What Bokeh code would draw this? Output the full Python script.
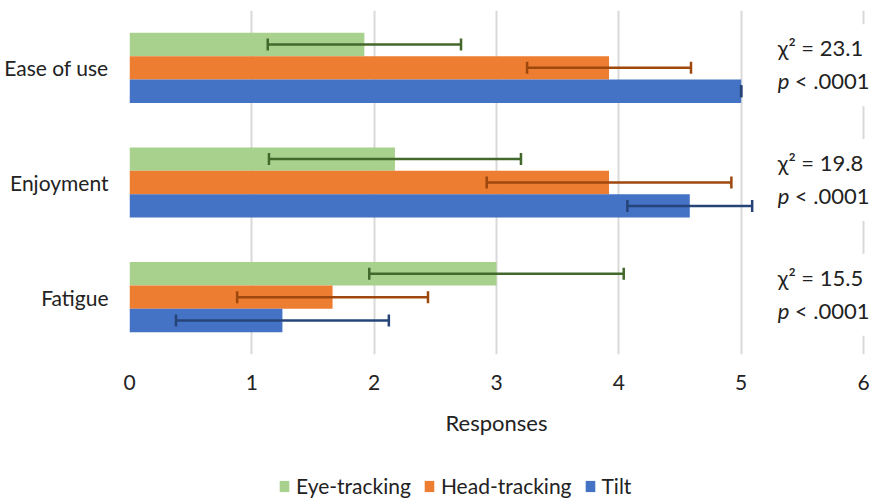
from bokeh.plotting import figure
from bokeh.layouts import column
from bokeh.models import (FactorRange, Range1d, ColumnDataSource, Whisker, Legend,
                          LegendItem, TeeHead, FixedTicker, Title)
from bokeh.transform import dodge
from bokeh.core.properties import value
from bokeh.embed import file_html
from bokeh.resources import INLINE

# Survey responses per condition (mean and standard deviation)
categories = ["Ease of use", "Enjoyment", "Fatigue"]
series = ["Eye-tracking", "Head-tracking", "Tilt"]
eye_mean = [1.92, 2.17, 3.00]
eye_sd = [0.79, 1.03, 1.04]
head_mean = [3.92, 3.92, 1.66]
head_sd = [0.67, 1.00, 0.78]
tilt_mean = [5.00, 4.58, 1.25]
tilt_sd = [0.00, 0.51, 0.87]
chi_values = ["23.1", "19.8", "15.5"]
p_values = ["< .0001", "< .0001", "< .0001"]
x_ticks = [0, 1, 2, 3, 4, 5, 6]

FONT = "Lato"
TXT = "#222222"
bar_colors = ["#A9D18E", "#ED7D31", "#4472C4"]
err_colors = ["#43682B", "#9E480E", "#264478"]
offsets = [0.204, 0.0, -0.204]
bar_h = 0.204

p = figure(width=874, height=440,
           y_range=FactorRange(*reversed(categories)),
           x_range=Range1d(0, 6.09),
           output_backend="svg", toolbar_location=None,
           min_border_left=129, min_border_right=0,
           min_border_top=10, min_border_bottom=85)
p.outline_line_color = None
p.background_fill_color = "white"
p.border_fill_color = "white"

p.ygrid.grid_line_color = None
p.xgrid.grid_line_color = "#d9d9d9"
p.xgrid.grid_line_width = 2

xa = p.xaxis[0]
xa.ticker = FixedTicker(ticks=x_ticks)
xa.axis_line_color = None
xa.major_tick_line_color = None
xa.minor_tick_line_color = None
xa.major_label_standoff = 14
xa.major_label_text_font = FONT
xa.major_label_text_font_size = "21px"
xa.major_label_text_color = TXT

# Small blank gap, then the axis title centred under the 0-6 scale
p.add_layout(Title(text=" ", text_font_size="1px", standoff=6), "below")
p.add_layout(Title(text="Responses", align="left", offset=316,
                   text_font=FONT, text_font_size="22px",
                   text_font_style="normal", text_color=TXT), "below")

ya = p.yaxis[0]
ya.axis_line_color = None
ya.major_tick_line_color = None
ya.minor_tick_line_color = None
ya.major_label_standoff = 15
ya.major_label_text_font = FONT
ya.major_label_text_font_size = "21px"
ya.major_label_text_color = TXT

means = [eye_mean, head_mean, tilt_mean]
sds = [eye_sd, head_sd, tilt_sd]
sources = []
for name, m, s, off, bc, ec in zip(series, means, sds, offsets, bar_colors, err_colors):
    src = ColumnDataSource(dict(
        cat=categories, mean=m,
        lo=[a - b for a, b in zip(m, s)],
        hi=[a + b for a, b in zip(m, s)],
    ))
    sources.append(src)
    ycoord = dodge("cat", off, range=p.y_range)
    p.hbar(y=ycoord, left=0, right="mean", height=bar_h, source=src,
           fill_color=bc, line_color=None)
    w = Whisker(source=src, base=ycoord, lower="lo", upper="hi", dimension="width",
                line_color=ec, line_width=2.5, level="overlay",
                upper_head=TeeHead(size=12, line_color=ec, line_width=2.5),
                lower_head=TeeHead(size=12, line_color=ec, line_width=2.5))
    p.add_layout(w)

# Chi-square results beside each group
stats = ColumnDataSource(dict(
    cat=categories,
    chi=["\u03c7\u00b2 = " + v for v in chi_values],
    pv=p_values,
    pl=["p"] * 3,
    x=[5.30] * 3,
))
p.text(x="x", y="cat", text="pv", source=stats, y_offset=13, x_offset=5,
       text_font=value(FONT), text_font_size="22px", text_color=TXT,
       text_baseline="middle", text_align="left",
       background_fill_color="white", padding=12)
p.text(x="x", y="cat", text="chi", source=stats, y_offset=-20, x_offset=-10,
       text_font=value(FONT), text_font_size="22px", text_color=TXT,
       text_baseline="middle", text_align="left",
       background_fill_color="white", padding=10)
p.text(x="x", y="cat", text="pl", source=stats, y_offset=13,
       text_font=value(FONT), text_font_size="22px", text_color=TXT,
       text_font_style="italic", text_baseline="middle", text_align="left")

# Legend strip underneath the chart; its bars sit outside the visible x range
lg = figure(width=874, height=58, x_range=Range1d(-2, -1),
            y_range=FactorRange(*categories),
            output_backend="svg", toolbar_location=None,
            min_border=0, outline_line_color=None)
lg.axis.visible = False
lg.grid.visible = False
items = []
for name, bc, src in zip(series, bar_colors, sources):
    r = lg.hbar(y="cat", left=0, right="mean", height=0.5, source=src,
                fill_color=bc, line_color=None)
    items.append(LegendItem(label=name, renderers=[r]))
legend = Legend(items=items, orientation="horizontal", location=(149, 0),
                glyph_width=12, glyph_height=14, label_standoff=6, spacing=12,
                padding=0, margin=0, border_line_color=None,
                background_fill_alpha=0,
                label_text_font=FONT, label_text_font_size="21px",
                label_text_color=TXT)
lg.add_layout(legend)

open("out.html", "w").write(file_html(column(p, lg, spacing=0), INLINE))
